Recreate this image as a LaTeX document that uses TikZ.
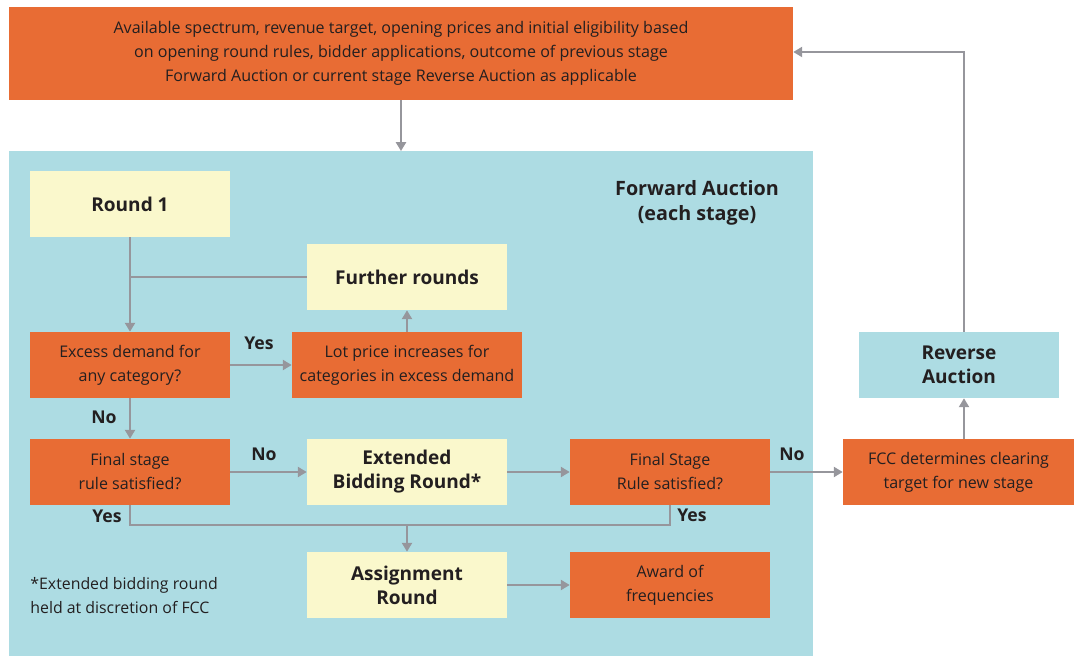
\documentclass[tikz,border=0pt]{standalone}
\usepackage{fontspec}
\setmainfont{Open Sans}
\usetikzlibrary{arrows.meta}
\definecolor{orng}{RGB}{232,108,52}
\definecolor{bluebg}{RGB}{173,220,227}
\definecolor{ylw}{RGB}{250,248,204}
\definecolor{lgray}{RGB}{150,150,156}
\definecolor{txt}{RGB}{35,31,32}
\newcommand{\pxu}{0.567pt}
\begin{document}
\begin{tikzpicture}[x=0.567pt,y=-0.567pt,
 base/.style={inner sep=0pt, align=center, text=txt},
 obox/.style={base, fill=orng, font=\fontsize{9.1}{13.6}\selectfont},
 ybox/.style={base, fill=ylw, font=\bfseries\fontsize{10.8}{13.6}\selectfont},
 rbox/.style={base, fill=bluebg, font=\bfseries\fontsize{10.8}{13.6}\selectfont},
 lbl/.style={text=txt, font=\bfseries\fontsize{10}{12}\selectfont, inner sep=0pt},
 conn/.style={draw=lgray, line width=0.85pt, -{Triangle[width=5.8pt,length=5pt]}},
 plain/.style={draw=lgray, line width=0.85pt},
 std/.style={minimum width=200*\pxu, minimum height=66*\pxu}
]
\useasboundingbox (0,0) rectangle (1075,656);
\node[fill=bluebg, inner sep=0pt, minimum width=804*\pxu, minimum height=505*\pxu, anchor=north west] (fa) at (9,151) {};
\node[obox, minimum width=784*\pxu, minimum height=93*\pxu] (top) at (401,53.5)
 {Available spectrum, revenue target, opening prices and initial eligibility based\\
  on opening round rules, bidder applications, outcome of previous stage\\
  Forward Auction or current stage Reverse Auction as applicable};
\node[lbl, align=center, font=\bfseries\fontsize{11.2}{14.2}\selectfont] (fat) at (697,203) {Forward Auction\\(each stage)};
\node[ybox, std] (r1) at (130,204) {Round 1};
\node[ybox, std] (fr) at (407,277) {Further rounds};
\node[obox, std] (ex) at (130,365) {Excess demand for\\any category?};
\node[obox, std, minimum width=230*\pxu] (lp) at (407,365) {Lot price increases for\\categories in excess demand};
\node[obox, std] (f1) at (130,472) {Final stage\\rule satisfied?};
\node[ybox, std] (eb) at (407,472) {Extended\\Bidding Round*};
\node[obox, std] (f2) at (670,472) {Final Stage\\Rule satisfied?};
\node[obox, std, minimum width=231*\pxu] (fcc) at (958.5,472) {FCC determines clearing\\target for new stage};
\node[rbox, std] (ra) at (959,365) {Reverse\\Auction};
\node[ybox, std] (as) at (407,585) {Assignment\\Round};
\node[obox, std] (aw) at (670,585) {Award of\\frequencies};
\node[base, anchor=west, align=left, font=\fontsize{9}{13.6}\selectfont] (fn) at (30,596) {*Extended bidding round\\held at discretion of FCC};
\node[lbl] (y1) at (259,343) {Yes};
\node[lbl] (n1) at (104,417) {No};
\node[lbl] (n2) at (264,454) {No};
\node[lbl] (y2) at (107,516) {Yes};
\node[lbl] (y3) at (692,515) {Yes};
\node[lbl] (n3) at (792,454) {No};
\coordinate (rx) at (964,52);
\coordinate (bus) at (0,525);
\draw[conn] (top.south) -- (top.south |- fa.north);
\draw[conn] (r1.south) -- (ex.north);
\draw[plain] (fr.west) -- (fr.west -| r1.south);
\draw[conn] (lp.north) -- (fr.south);
\draw[conn] (ex.east) -- (lp.west);
\draw[conn] (ex.south) -- (f1.north);
\draw[conn] (f1.east) -- (eb.west);
\draw[conn] (eb.east) -- (f2.west);
\draw[conn] (f2.east) -- (fcc.west);
\draw[conn] (fcc.north -| rx) -- (ra.south -| rx);
\draw[conn] (ra.north -| rx) -- (rx) -- (rx -| top.east);
\draw[plain] (f1.south) -- (f1.south |- bus) -- (f2.south |- bus) -- (f2.south);
\draw[conn] (as.north |- bus) -- (as.north);
\draw[conn] (as.east) -- (aw.west);
\end{tikzpicture}
\end{document}
